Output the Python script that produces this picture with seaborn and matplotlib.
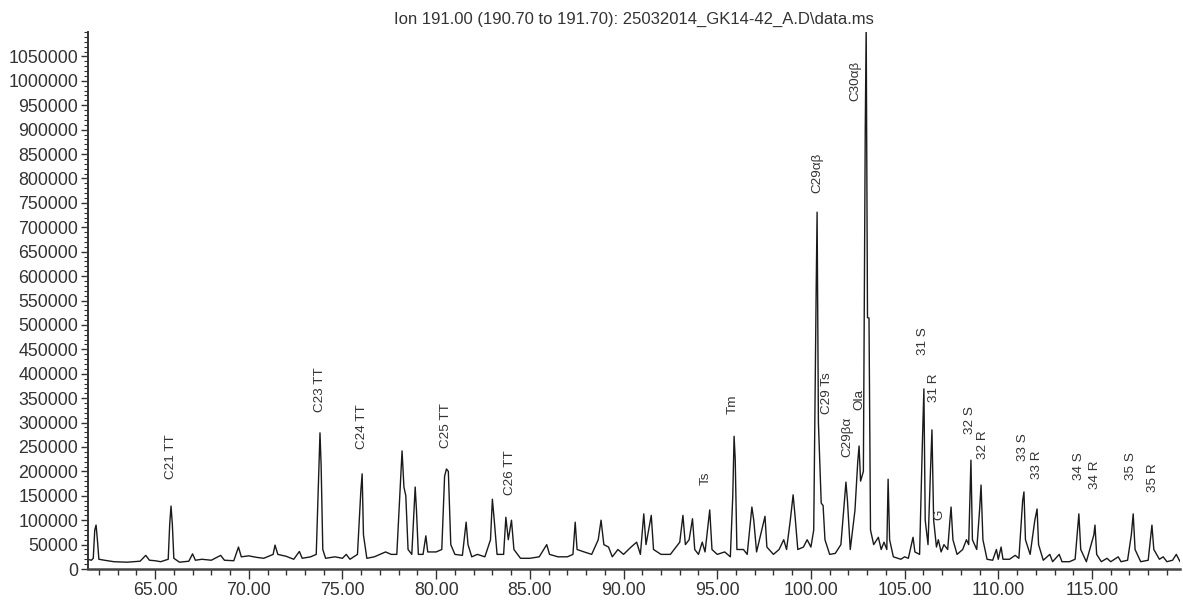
import matplotlib
matplotlib.use("Agg")
import matplotlib.pyplot as plt
import seaborn as sns
import pandas as pd
from matplotlib.ticker import MultipleLocator, FixedLocator, FuncFormatter

# ---------------- data ----------------
retention_time = [
    61.40, 61.60, 61.70, 61.78, 61.85, 61.92, 62.00, 62.30, 62.80, 63.50, 64.20, 64.50, 64.70,
    65.00, 65.30, 65.70, 65.78, 65.85, 65.92, 66.00, 66.30, 66.80, 67.00, 67.15, 67.50, 68.00,
    68.50, 68.70, 69.20, 69.45, 69.60, 70.00, 70.40, 70.80, 71.30, 71.40, 71.55, 72.00, 72.40,
    72.70, 72.85, 73.30, 73.60, 73.72, 73.80, 73.86, 73.95, 74.10, 74.60, 75.00, 75.20, 75.40,
    75.80, 75.98, 76.05, 76.12, 76.30, 76.70, 77.00, 77.30, 77.60, 77.90, 78.10, 78.18, 78.28,
    78.38, 78.50, 78.70, 78.88, 78.95, 79.05, 79.30, 79.45, 79.55, 80.00, 80.30, 80.45, 80.55,
    80.65, 80.78, 81.00, 81.40, 81.60, 81.70, 81.90, 82.20, 82.60, 82.90, 83.00, 83.10, 83.25,
    83.60, 83.72, 83.85, 84.02, 84.15, 84.50, 85.00, 85.50, 85.90, 86.05, 86.50, 87.00, 87.30,
    87.42, 87.52, 87.90, 88.30, 88.65, 88.80, 88.95, 89.20, 89.40, 89.70, 90.00, 90.40, 90.70,
    90.90, 91.08, 91.20, 91.48, 91.60, 92.00, 92.50, 92.80, 93.00, 93.17, 93.30, 93.50, 93.68,
    93.80, 94.00, 94.20, 94.35, 94.60, 94.72, 95.00, 95.40, 95.70, 95.83, 95.90, 95.96, 96.05,
    96.40, 96.60, 96.85, 96.95, 97.10, 97.55, 97.65, 98.00, 98.30, 98.55, 98.70, 98.90, 99.05,
    99.15, 99.30, 99.60, 99.80, 100.00, 100.15, 100.28, 100.33, 100.40, 100.55, 100.65, 100.75,
    101.00, 101.30, 101.60, 101.75, 101.87, 101.95, 102.10, 102.35, 102.50, 102.57, 102.65,
    102.80, 102.90, 102.95, 103.02, 103.10, 103.18, 103.35, 103.60, 103.75, 103.90, 104.05,
    104.12, 104.20, 104.40, 104.80, 105.00, 105.20, 105.45, 105.55, 105.80, 105.95, 106.03,
    106.10, 106.25, 106.38, 106.46, 106.55, 106.70, 106.80, 106.95, 107.10, 107.30, 107.42,
    107.48, 107.58, 107.80, 108.10, 108.30, 108.42, 108.54, 108.62, 108.85, 109.00, 109.08,
    109.18, 109.40, 109.70, 109.90, 110.00, 110.15, 110.25, 110.60, 110.90, 111.10, 111.30,
    111.37, 111.45, 111.70, 111.95, 112.07, 112.15, 112.40, 112.75, 112.90, 113.25, 113.40,
    113.80, 114.10, 114.30, 114.40, 114.70, 115.10, 115.16, 115.25, 115.50, 115.80, 116.00,
    116.40, 116.55, 116.90, 117.10, 117.20, 117.30, 117.60, 118.00, 118.20, 118.30, 118.60,
    118.80, 119.00, 119.30, 119.50, 119.70,
]
abundance = [
    20000, 18000, 22000, 80000, 90000, 60000, 20000, 18000, 15000, 14000, 16000, 28000, 18000,
    17000, 15000, 20000, 92000, 129000, 92000, 22000, 14000, 16000, 31000, 18000, 20000, 18000,
    28000, 18000, 17000, 45000, 25000, 27000, 24000, 22000, 30000, 49000, 30000, 26000, 20000,
    36000, 22000, 25000, 30000, 180000, 279000, 213000, 40000, 22000, 25000, 22000, 30000, 20000,
    30000, 160000, 195000, 70000, 22000, 25000, 30000, 35000, 30000, 30000, 180000, 242000, 168000,
    150000, 40000, 30000, 168000, 120000, 30000, 30000, 68000, 35000, 35000, 40000, 190000, 205000,
    200000, 50000, 30000, 28000, 96000, 50000, 25000, 30000, 25000, 60000, 143000, 100000, 30000,
    30000, 106000, 60000, 100000, 40000, 22000, 22000, 25000, 50000, 30000, 25000, 25000, 30000,
    96000, 40000, 35000, 30000, 60000, 100000, 50000, 45000, 25000, 40000, 30000, 45000, 55000,
    30000, 113000, 50000, 110000, 40000, 30000, 30000, 45000, 55000, 110000, 50000, 60000, 103000,
    40000, 30000, 55000, 35000, 121000, 40000, 30000, 35000, 25000, 150000, 272000, 225000, 40000,
    40000, 30000, 127000, 100000, 35000, 108000, 45000, 30000, 40000, 60000, 40000, 100000, 152000,
    110000, 40000, 45000, 60000, 45000, 80000, 570000, 731000, 300000, 135000, 130000, 60000,
    30000, 32000, 50000, 120000, 178000, 140000, 40000, 120000, 220000, 252000, 180000,
    200000, 900000, 1110000, 515000, 514000, 80000, 50000, 65000, 40000, 55000, 40000,
    184000, 60000, 25000, 20000, 25000, 22000, 65000, 35000, 30000, 260000, 369000,
    100000, 50000, 200000, 285000, 100000, 45000, 60000, 35000, 50000, 40000, 100000,
    127000, 60000, 30000, 40000, 60000, 50000, 223000, 60000, 40000, 120000, 172000,
    60000, 20000, 18000, 40000, 20000, 45000, 20000, 20000, 28000, 22000, 140000,
    158000, 60000, 30000, 100000, 123000, 50000, 18000, 30000, 15000, 30000, 15000,
    15000, 20000, 113000, 40000, 15000, 70000, 90000, 30000, 15000, 22000, 15000,
    25000, 15000, 18000, 70000, 113000, 40000, 15000, 18000, 90000, 40000, 20000,
    25000, 15000, 18000, 30000, 15000,
]

peak_names = ["C21 TT", "C23 TT", "C24 TT", "C25 TT", "C26 TT", "Ts", "Tm",
              "C29αβ", "C29 Ts", "C29βα", "Ola", "C30αβ", "31 S", "31 R", "G",
              "32 S", "32 R", "33 S", "33 R", "34 S", "34 R", "35 S", "35 R"]
peak_label_rt = [65.85, 73.80, 76.05, 80.53, 83.94, 94.40, 95.84,
                 100.33, 100.86, 101.93, 102.57, 102.35, 105.98, 106.57, 106.84,
                 108.49, 109.18, 111.32, 112.07, 114.31, 115.16, 117.08, 118.25]
peak_label_level = [184000, 322000, 246000, 248000, 152000, 172000, 318000,
                    770000, 318000, 229000, 326000, 959000, 438000, 342000, 100000,
                    277000, 225000, 221000, 184000, 182000, 164000, 182000, 158000]

y_tick_values = list(range(0, 1100000, 50000))
title_text = "Ion 191.00 (190.70 to 191.70): 25032014_GK14-42_A.D\\data.ms"

# ---------------- figure ----------------
sns.set_style("ticks")
plt.rcParams["font.family"] = ["Liberation Sans", "DejaVu Sans"]

fig = plt.figure(figsize=(11.83, 6.01), dpi=100)
ax = fig.add_axes([0.0744, 0.0532, 0.9231, 0.8935])

df = pd.DataFrame({"rt": retention_time, "abundance": abundance})
sns.lineplot(data=df, x="rt", y="abundance", ax=ax, estimator=None, sort=False,
             color="#1a1a1a", linewidth=1.0)

ax.set_xlim(61.42, 119.70)
ax.set_ylim(0, 1100000)

ax.xaxis.set_major_locator(MultipleLocator(5))
ax.xaxis.set_minor_locator(MultipleLocator(1))
ax.xaxis.set_major_formatter(FuncFormatter(lambda v, p: f"{v:.2f}"))
ax.yaxis.set_major_locator(FixedLocator(y_tick_values))
ax.yaxis.set_minor_locator(MultipleLocator(10000))
ax.yaxis.set_major_formatter(FuncFormatter(lambda v, p: f"{int(round(v))}"))

ax.tick_params(axis="both", which="major", labelsize=12.8, color="#333333",
               labelcolor="#333333", pad=2)
ax.tick_params(axis="x", which="major", length=7, width=1.0)
ax.tick_params(axis="x", which="minor", length=4, width=1.0, color="#333333")
ax.tick_params(axis="y", which="major", length=5, width=1.0)
ax.tick_params(axis="y", which="minor", length=3, width=0.8, color="#333333")

ax.set_xlabel("")
ax.set_ylabel("")
sns.despine(ax=ax, top=True, right=True)
ax.spines["left"].set_color("#333333")
ax.spines["left"].set_linewidth(1.4)
ax.spines["bottom"].set_color("#444444")
ax.spines["bottom"].set_linewidth(1.8)

for name, rt, lvl in zip(peak_names, peak_label_rt, peak_label_level):
    ax.text(rt, lvl, name, rotation=90, ha="center", va="bottom",
            fontsize=9.7, color="#333333")

ax.set_title(title_text, fontsize=12, color="#333333", pad=6)

fig.savefig("out.png", dpi=100)
